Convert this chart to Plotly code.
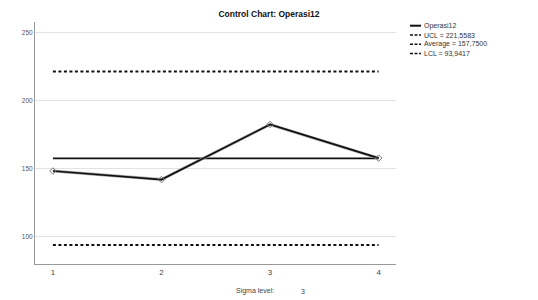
import plotly.graph_objects as go

samples = [1, 2, 3, 4]
values = [148.4, 142.1, 182.6, 157.9]
ucl = 221.5583
avg = 157.7500
lcl = 93.9417
series_name = "Operasi12"
legend_labels = ["Operasi12", "UCL = 221,5583", "Average = 157,7500", "LCL = 93,9417"]
y_ticks = [100, 150, 200, 250]
sigma_level = 3

FONT = "Liberation Sans, Arial, sans-serif"
W, H = 538, 300
OFF = 8  # page body margin
L, R, T, B = 35 - OFF, 396 - OFF, 22 - OFF, 264 - OFF  # plot area in figure px
PW, PH = R - L, B - T


def px(xp):
    return (xp - OFF - L) / PW


def py(yp):
    return (B - (yp - OFF)) / PH


fig = go.Figure()
fig.add_trace(go.Scatter(x=samples, y=[ucl] * len(samples), mode="lines",
                         line=dict(color="#111", width=2, dash="3px,2.5px"), name=legend_labels[1]))
fig.add_trace(go.Scatter(x=samples, y=[lcl] * len(samples), mode="lines",
                         line=dict(color="#111", width=2, dash="3px,2.5px"), name=legend_labels[3]))
fig.add_trace(go.Scatter(x=samples, y=[avg] * len(samples), mode="lines",
                         line=dict(color="#111", width=1.8), name=legend_labels[2]))
fig.add_trace(go.Scatter(x=samples, y=values, mode="lines",
                         line=dict(color="#aaa", width=3), hoverinfo="skip", showlegend=False))
fig.add_trace(go.Scatter(x=samples, y=values, mode="lines+markers",
                         line=dict(color="#111", width=1.7),
                         marker=dict(symbol="diamond-open", size=5, color="#777", line=dict(width=1)),
                         name=series_name))

# compact legend
row_y = [25.7, 35.0, 44.2, 53.4]
for i, (lab, ry) in enumerate(zip(legend_labels, row_y)):
    solid = i == 0
    fig.add_shape(type="line", xref="paper", yref="paper",
                  x0=px(410), x1=px(421), y0=py(ry), y1=py(ry),
                  line=dict(color="#111", width=2 if solid else 1.5,
                            dash="solid" if solid else "3px,1.5px"))
    fig.add_annotation(text=lab, xref="paper", yref="paper",
                       x=px(422), y=py(ry), xanchor="left", yanchor="middle", showarrow=False,
                       font=dict(family=FONT, size=7, color="#333"))

fig.add_annotation(text="Sigma level:", xref="paper", yref="paper",
                   x=px(234), y=py(291), xanchor="left", yanchor="middle", showarrow=False,
                   font=dict(family=FONT, size=7, color="#444"))
fig.add_annotation(text=str(sigma_level), xref="paper", yref="paper",
                   x=px(299), y=py(291), xanchor="left", yanchor="middle", showarrow=False,
                   font=dict(family=FONT, size=7, color="#444"))

fig.update_layout(
    template="none",
    width=W, height=H,
    margin=dict(l=L, r=W - R, t=T, b=H - B, pad=0),
    paper_bgcolor="white", plot_bgcolor="white",
    showlegend=False,
    title=dict(text="<b>Control Chart: Operasi12</b>", x=(269 - OFF) / W, xref="container",
               xanchor="center", y=1 - (14 - OFF) / H, yanchor="middle",
               font=dict(family=FONT, size=8.5, color="#111")),
    font=dict(family=FONT),
)
fig.update_xaxes(range=[0.835, 4.16], tickvals=samples, ticktext=[str(s) for s in samples],
                 showgrid=False, zeroline=False, showline=True, linecolor="#999", linewidth=1,
                 ticks="", tickfont=dict(family=FONT, size=8, color="#444"))
fig.update_yaxes(range=[80, 258], tickvals=y_ticks, showgrid=True, gridcolor="#e3e3e3", gridwidth=1,
                 zeroline=False, showline=True, linecolor="#999", linewidth=1,
                 ticks="", tickfont=dict(family=FONT, size=6.5, color="#555"))

fig.write_html("out.html")
